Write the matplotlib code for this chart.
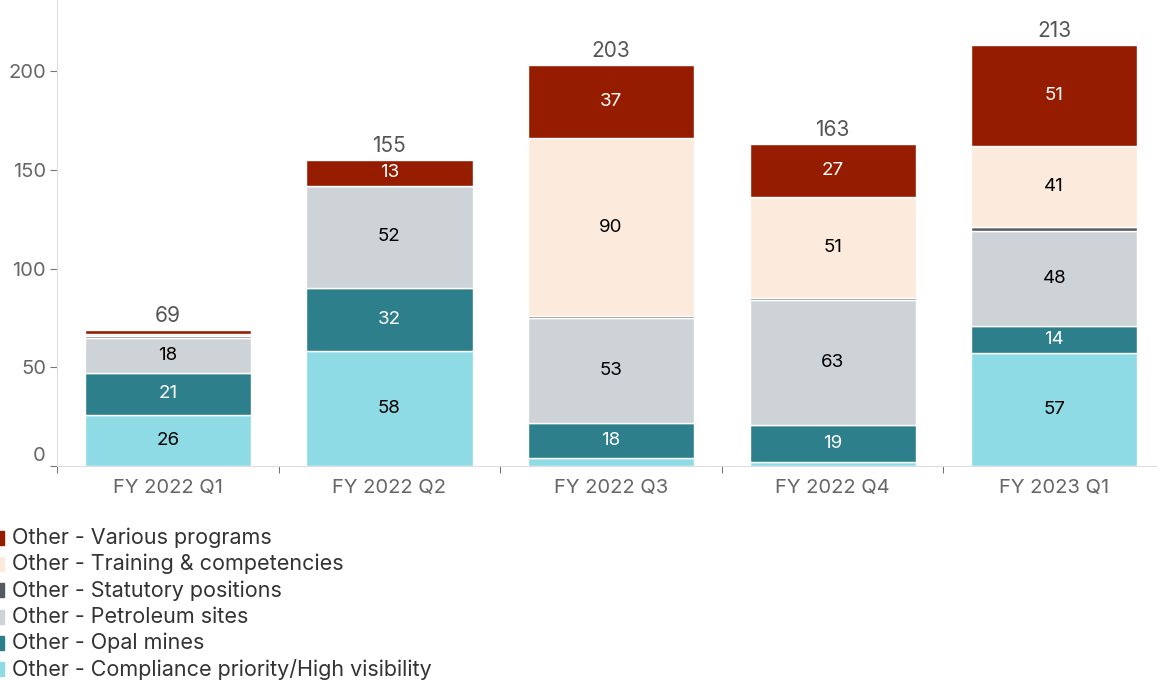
import numpy as np
import matplotlib.pyplot as plt
import matplotlib.transforms as mtransforms
from matplotlib.patches import Rectangle

plt.rcParams['font.family'] = ['Inter', 'DejaVu Sans']

quarters = ["FY 2022 Q1", "FY 2022 Q2", "FY 2022 Q3", "FY 2022 Q4", "FY 2023 Q1"]
series = ["Other - Compliance priority/High visibility", "Other - Opal mines",
          "Other - Petroleum sites", "Other - Statutory positions",
          "Other - Training & competencies", "Other - Various programs"]
compliance = [26, 58, 4, 2, 57]
opal = [21, 32, 18, 19, 14]
petroleum = [18, 52, 53, 63, 48]
statutory = [1, 0, 1, 1, 2]
training = [1, 0, 90, 51, 41]
various = [2, 13, 37, 27, 51]

values = [compliance, opal, petroleum, statutory, training, various]
colors = ["#8EDBE5", "#2E7F8C", "#CED3D7", "#555A5E", "#FCEBDD", "#961C00"]
text_colors = ["black", "white", "black", "white", "black", "white"]

fig = plt.figure(figsize=(11.57, 6.80), dpi=100)
ax = fig.add_axes([57/1157, 1-466/680, 1108/1157, 466/680])

x = np.arange(len(quarters))
bottom = np.zeros(len(quarters))
for vals, col, tcol in zip(values, colors, text_colors):
    vals = np.array(vals, dtype=float)
    ax.bar(x, vals, 0.75, bottom=bottom, color=col, edgecolor="white", linewidth=1)
    for xi, v, b in zip(x, vals, bottom):
        if v >= 10:
            ax.text(xi, b + v/2, f"{v:.0f}", ha="center", va="center",
                    color=tcol, fontsize=13.5)
    bottom += vals

for xi, t in zip(x, bottom):
    ax.text(xi, t + 2, f"{t:.0f}", ha="center", va="bottom", color="#555555", fontsize=15)

ax.set_xlim(-0.5, 4.5)
ax.set_ylim(0, 236)
ax.set_yticks([0, 50, 100, 150, 200])
ax.set_xticks(x)
ax.set_xticklabels(quarters)
ax.set_xticks(np.arange(-0.5, 5, 1), minor=True)
ax.tick_params(axis="x", which="major", length=0, labelsize=14.5, labelcolor="#666666", pad=9)
ax.tick_params(axis="x", which="minor", length=5, color="#555555")
ax.tick_params(axis="y", length=5, color="#777777", labelsize=14.5, labelcolor="#666666", pad=3)
for s in ["top", "right"]:
    ax.spines[s].set_visible(False)
ax.spines["left"].set_color("#DDDDDD")
ax.spines["bottom"].set_color("#DDDDDD")
ax.spines["bottom"].set_linestyle((0, (1, 1)))

# the "0" label sits a bit above its tick in the original
zero_lbl = ax.get_yticklabels()[0]
zero_lbl.set_transform(zero_lbl.get_transform() +
                       mtransforms.ScaledTranslation(0, 12/100, fig.dpi_scale_trans))

# legend, top of list = last series
for i, (name, col) in enumerate(zip(series[::-1], colors[::-1])):
    yy = 1 - (538 + 26.2 * i) / 680
    fig.patches.append(Rectangle((-3/1157, yy - 7/680), 7/1157, 14/680,
                                 transform=fig.transFigure, color=col, clip_on=False))
    fig.text(12/1157, yy, name, va="center", ha="left", fontsize=15.5, color="#333333")

fig.savefig("out.png", dpi=100)
